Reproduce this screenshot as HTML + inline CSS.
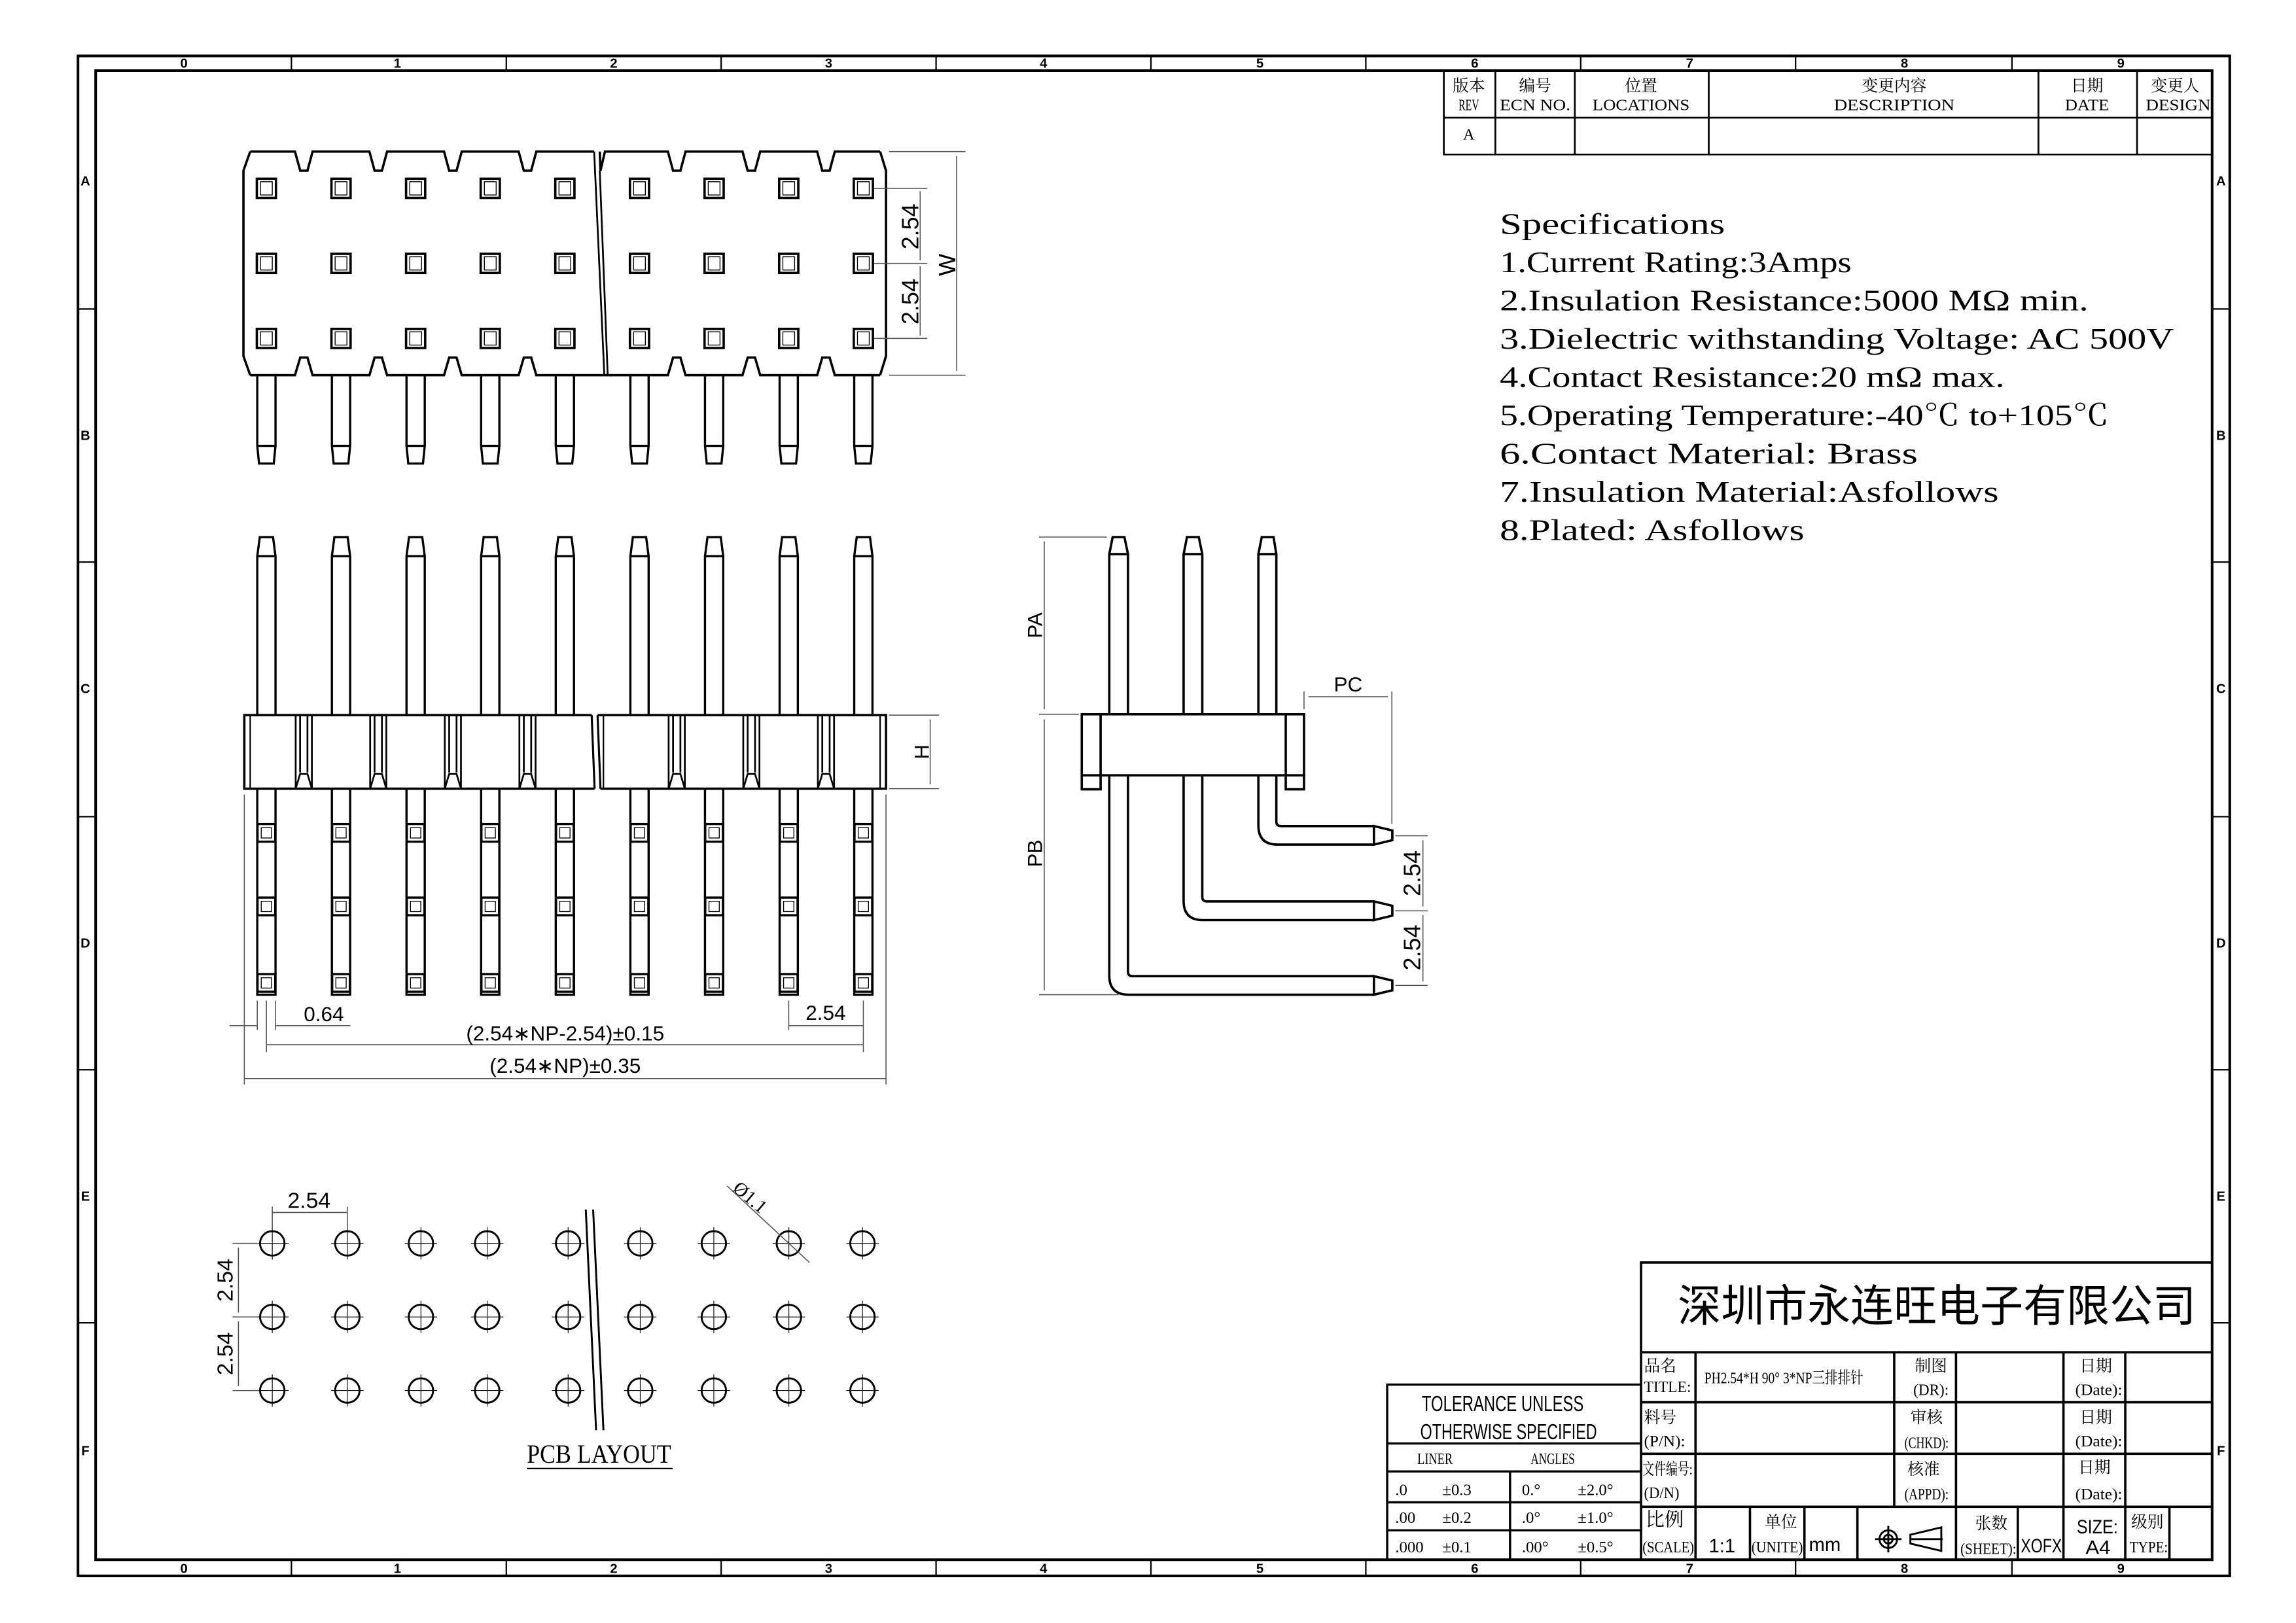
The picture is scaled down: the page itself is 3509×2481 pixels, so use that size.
<!DOCTYPE html>
<html><head><meta charset="utf-8"><style>
html,body{margin:0;padding:0;background:#fff;}
svg{display:block}
text{font-family:"Liberation Sans","Noto Sans CJK SC",sans-serif;fill:#000}
text.s,.s text{font-family:"Liberation Serif","Noto Serif CJK SC","Noto Sans CJK SC",serif}
</style></head><body>
<svg width="3509" height="2481" viewBox="0 0 1560 1103" preserveAspectRatio="none" xmlns="http://www.w3.org/2000/svg">
<defs>
<g id="sq"><rect x="-6.5" y="-6.5" width="13" height="13" fill="#fff" stroke="#000" stroke-width="1.6"/><rect x="-4" y="-4.5" width="8" height="9" fill="none" stroke="#000" stroke-width="0.6"/></g>
<g id="sq2"><rect x="-6" y="-6" width="12" height="12" fill="#fff" stroke="#000" stroke-width="1.5"/><rect x="-3.5" y="-3.5" width="7" height="7" fill="none" stroke="#000" stroke-width="0.6"/></g>
<path id="tp" d="M-6.2,255V303L-5,315H5L6.2,303V255M-6.2,303H6.2" fill="none" stroke="#000" stroke-width="1.5"/>
<g id="fp" fill="none" stroke="#000" stroke-width="1.5"><path d="M-6.2,486V378L-4.5,365H4.5L6.2,378V486M-6.2,378H6.2"/><path d="M-6.2,536V676H6.2V536"/></g>
<g id="hole" fill="none" stroke="#000"><circle r="8.3" stroke-width="1.3"/><path d="M-11,0H11M0,-11V11" stroke-width="0.5"/></g>
<g id="mid" fill="none" stroke="#000" stroke-width="1.2"><path d="M-5.5,486V536M5.5,486V536M-2.5,486V525M2.5,486V525M-5.5,536L-2.5,526H2.5L5.5,536"/></g>
</defs>
<rect width="1560" height="1103" fill="#fff"/>
<!-- frame -->
<g fill="none" stroke="#000">
<rect x="53" y="38" width="1462" height="1033" stroke-width="1.8"/>
<rect x="65" y="48" width="1438" height="1012" stroke-width="1.8"/>
<path stroke-width="1" d="M198,38V48M344,38V48M490,38V48M636,38V48M782,38V48M928,38V48M1074,38V48M1220,38V48M1367,38V48M198,1060V1071M344,1060V1071M490,1060V1071M636,1060V1071M782,1060V1071M928,1060V1071M1074,1060V1071M1220,1060V1071M1367,1060V1071M53,210H65M53,382H65M53,555H65M53,727H65M53,899H65M1503,210H1515M1503,382H1515M1503,555H1515M1503,727H1515M1503,899H1515"/>
</g>
<g font-size="9" font-weight="bold" text-anchor="middle">
<text x="125" y="46">0</text><text x="270" y="46">1</text><text x="417" y="46">2</text><text x="563" y="46">3</text><text x="709" y="46">4</text><text x="856" y="46">5</text><text x="1002" y="46">6</text><text x="1148" y="46">7</text><text x="1294" y="46">8</text><text x="1441" y="46">9</text>
<text x="125" y="1069">0</text><text x="270" y="1069">1</text><text x="417" y="1069">2</text><text x="563" y="1069">3</text><text x="709" y="1069">4</text><text x="856" y="1069">5</text><text x="1002" y="1069">6</text><text x="1148" y="1069">7</text><text x="1294" y="1069">8</text><text x="1441" y="1069">9</text>
<text x="58" y="126">A</text><text x="58" y="299">B</text><text x="58" y="471">C</text><text x="58" y="644">D</text><text x="58" y="816">E</text><text x="58" y="989">F</text>
<text x="1509" y="126">A</text><text x="1509" y="299">B</text><text x="1509" y="471">C</text><text x="1509" y="644">D</text><text x="1509" y="816">E</text><text x="1509" y="989">F</text>
</g>
<!-- revision table -->
<g fill="none" stroke="#000" stroke-width="1.2">
<path d="M981,48V105H1503M981,80H1503M1016,48V105M1070,48V105M1161,48V105M1385,48V105M1452,48V105"/>
</g>
<g class="s" font-size="11" text-anchor="middle">
<text x="998" y="62">版本</text><text x="998" y="75" textLength="14" lengthAdjust="spacingAndGlyphs">REV</text>
<text x="1043" y="62">编号</text><text x="1043" y="75" textLength="48" lengthAdjust="spacingAndGlyphs">ECN NO.</text>
<text x="1115" y="62">位置</text><text x="1115" y="75" textLength="66" lengthAdjust="spacingAndGlyphs">LOCATIONS</text>
<text x="1287" y="62">变更内容</text><text x="1287" y="75" textLength="82" lengthAdjust="spacingAndGlyphs">DESCRIPTION</text>
<text x="1418" y="62">日期</text><text x="1418" y="75" textLength="30" lengthAdjust="spacingAndGlyphs">DATE</text>
<text x="1478" y="62">变更人</text><text x="1480" y="75" textLength="44" lengthAdjust="spacingAndGlyphs">DESIGN</text>
<text x="998" y="95">A</text>
</g>
<!-- specs -->
<g class="s" font-size="20">
<text x="1019" y="159" textLength="153" lengthAdjust="spacingAndGlyphs">Specifications</text>
<text x="1019" y="185" textLength="239" lengthAdjust="spacingAndGlyphs">1.Current Rating:3Amps</text>
<text x="1019" y="211" textLength="400" lengthAdjust="spacingAndGlyphs">2.Insulation Resistance:5000 MΩ min.</text>
<text x="1019" y="237" textLength="458" lengthAdjust="spacingAndGlyphs">3.Dielectric withstanding Voltage: AC 500V</text>
<text x="1019" y="263" textLength="343" lengthAdjust="spacingAndGlyphs">4.Contact Resistance:20 mΩ max.</text>
<text x="1019" y="289" textLength="414" lengthAdjust="spacingAndGlyphs">5.Operating Temperature:-40℃ to+105℃</text>
<text x="1019" y="315" textLength="284" lengthAdjust="spacingAndGlyphs">6.Contact Material:  Brass</text>
<text x="1019" y="341" textLength="339" lengthAdjust="spacingAndGlyphs">7.Insulation Material:Asfollows</text>
<text x="1019" y="367" textLength="207" lengthAdjust="spacingAndGlyphs">8.Plated: Asfollows</text>
</g>
<!-- TOP VIEW -->
<g fill="none" stroke="#000" stroke-width="1.6">
<path d="M170,103H200.4L204,116H208.9L212.4,103H251L254.5,116H259.5L263,103H301.7L305.2,116H310.2L313.7,103H352.4L355.9,116H360.9L364.4,103H403.7"/>
<path d="M407.5,103L408,116L411,103H453.8L457.3,116H462.3L465.8,103H504.5L508,116H513L516.5,103H555.2L558.7,116H563.7L567.2,103H598"/>
<path d="M170,255H200.4L204,243H208.9L212.4,255H251L254.5,243H259.5L263,255H301.7L305.2,243H310.2L313.7,255H352.4L355.9,243H360.9L364.4,255H453.8L457.3,243H462.3L465.8,255H504.5L508,243H513L516.5,255H555.2L558.7,243H563.7L567.2,255H598"/>
<path d="M170,103L165.4,116V242L170,255M598,103L602,116V242L598,255"/>
<path d="M403.7,103L410.6,255M407.5,116L412.9,255" stroke-width="1.2"/>
</g>
<g>
<use href="#sq" x="181" y="128"/><use href="#sq" x="231.7" y="128"/><use href="#sq" x="282.4" y="128"/><use href="#sq" x="333.1" y="128"/><use href="#sq" x="383.8" y="128"/><use href="#sq" x="434.5" y="128"/><use href="#sq" x="485.2" y="128"/><use href="#sq" x="535.9" y="128"/><use href="#sq" x="586.6" y="128"/>
<use href="#sq" x="181" y="179"/><use href="#sq" x="231.7" y="179"/><use href="#sq" x="282.4" y="179"/><use href="#sq" x="333.1" y="179"/><use href="#sq" x="383.8" y="179"/><use href="#sq" x="434.5" y="179"/><use href="#sq" x="485.2" y="179"/><use href="#sq" x="535.9" y="179"/><use href="#sq" x="586.6" y="179"/>
<use href="#sq" x="181" y="230"/><use href="#sq" x="231.7" y="230"/><use href="#sq" x="282.4" y="230"/><use href="#sq" x="333.1" y="230"/><use href="#sq" x="383.8" y="230"/><use href="#sq" x="434.5" y="230"/><use href="#sq" x="485.2" y="230"/><use href="#sq" x="535.9" y="230"/><use href="#sq" x="586.6" y="230"/>
<use href="#tp" x="181"/><use href="#tp" x="231.7"/><use href="#tp" x="282.4"/><use href="#tp" x="333.1"/><use href="#tp" x="383.8"/><use href="#tp" x="434.5"/><use href="#tp" x="485.2"/><use href="#tp" x="535.9"/><use href="#tp" x="586.6"/>
</g>
<g fill="none" stroke="#555" stroke-width="0.7">
<path d="M604,103H656M604,255H656M650,106V252M594,128H630M594,179H630M594,230H630M625.2,130V177M625.2,181V228"/>
</g>
<g font-size="16" text-anchor="middle">
<text transform="translate(624,154) rotate(-90)">2.54</text>
<text transform="translate(624,205) rotate(-90)">2.54</text>
<text transform="translate(649,180) rotate(-90)">W</text>
</g>
<!-- FRONT VIEW -->
<g>
<use href="#fp" x="181"/><use href="#fp" x="231.7"/><use href="#fp" x="282.4"/><use href="#fp" x="333.1"/><use href="#fp" x="383.8"/><use href="#fp" x="434.5"/><use href="#fp" x="485.2"/><use href="#fp" x="535.9"/><use href="#fp" x="586.6"/>
</g>
<g fill="none" stroke="#000" stroke-width="1.6">
<rect x="166" y="486" width="436" height="50"/>
</g>
<g fill="#fff"><path d="M402,484L406,484L408,538L404,538Z"/></g>
<g fill="none" stroke="#000" stroke-width="1.4"><path d="M402,486L404,536M406,486L408,536"/></g>
<g>
<use href="#mid" x="206.4"/><use href="#mid" x="257"/><use href="#mid" x="307.7"/><use href="#mid" x="358.4"/><use href="#mid" x="459.8"/><use href="#mid" x="510.5"/><use href="#mid" x="561.2"/>
</g>
<g fill="none" stroke="#000" stroke-width="1"><path d="M170,486V536M598,486V536M410,486V536"/></g>
<g>
<use href="#sq2" x="181" y="566"/><use href="#sq2" x="231.7" y="566"/><use href="#sq2" x="282.4" y="566"/><use href="#sq2" x="333.1" y="566"/><use href="#sq2" x="383.8" y="566"/><use href="#sq2" x="434.5" y="566"/><use href="#sq2" x="485.2" y="566"/><use href="#sq2" x="535.9" y="566"/><use href="#sq2" x="586.6" y="566"/>
<use href="#sq2" x="181" y="616"/><use href="#sq2" x="231.7" y="616"/><use href="#sq2" x="282.4" y="616"/><use href="#sq2" x="333.1" y="616"/><use href="#sq2" x="383.8" y="616"/><use href="#sq2" x="434.5" y="616"/><use href="#sq2" x="485.2" y="616"/><use href="#sq2" x="535.9" y="616"/><use href="#sq2" x="586.6" y="616"/>
<use href="#sq2" x="181" y="668"/><use href="#sq2" x="231.7" y="668"/><use href="#sq2" x="282.4" y="668"/><use href="#sq2" x="333.1" y="668"/><use href="#sq2" x="383.8" y="668"/><use href="#sq2" x="434.5" y="668"/><use href="#sq2" x="485.2" y="668"/><use href="#sq2" x="535.9" y="668"/><use href="#sq2" x="586.6" y="668"/>
</g>
<g fill="none" stroke="#555" stroke-width="0.7">
<path d="M604,486H638M604,536H638M632,489V533"/>
<path d="M174.8,680V700M187.2,680V700M156,697H174.8M187.2,697H238"/>
<path d="M535.9,680V700M586.6,680V715M535.9,697H586.6"/>
<path d="M181,680V715M181,710H586.6"/>
<path d="M166,540V737M602,540V737M166,733H602"/>
</g>
<g font-size="14" text-anchor="middle">
<text transform="translate(631,511) rotate(-90)">H</text>
<text x="220" y="694">0.64</text>
<text x="561" y="693">2.54</text>
<text x="384" y="707">(2.54∗NP-2.54)±0.15</text>
<text x="384" y="729">(2.54∗NP)±0.35</text>
</g>
<!-- SIDE VIEW -->
<g fill="none" stroke="#000" stroke-width="1.6">
<path d="M753.7,485V376.6L756,365H764L766.4,376.6V485M753.7,376.6H766.4"/>
<path d="M804.2,485V376.6L806.5,365H814.5L816.9,376.6V485M804.2,376.6H816.9"/>
<path d="M855,485V376.6L857.3,365H865.3L867.2,376.6V485M855,376.6H867.2"/>
<rect x="735" y="485.4" width="151" height="41.5"/>
<path d="M735,526.9V536.4H747.8V485.4M886,526.9V536.4H873.6V485.4"/>
<path d="M867.2,527V558.4Q867.2,561.4 870.2,561.4H933.5M855,527V561Q855,574 868,574H933.5"/>
<path d="M933.5,561.4L946,564.4V571L933.5,574Z"/>
<path d="M816.9,527V609.6Q816.9,612.6 819.9,612.6H933.5M804.2,527V612.3Q804.2,625.3 817.2,625.3H933.5"/>
<path d="M933.5,612.6L946,615.6V622.3L933.5,625.3Z"/>
<path d="M766.4,527V660.4Q766.4,663.4 769.4,663.4H933.5M753.7,527V663Q753.7,676 766.7,676H933.5"/>
<path d="M933.5,663.4L946,666.4V673L933.5,676Z"/>
</g>
<g fill="none" stroke="#555" stroke-width="0.7">
<path d="M706,365H752M706,485.4H733M706,676H760M709.5,368V482M709.5,489V673"/>
<path d="M886,470V482M945.7,470V560M889,473.5H943"/>
<path d="M948,568H970M948,619H970M948,669.7H970M966.8,571V616M966.8,622V667"/>
</g>
<g font-size="14" text-anchor="middle">
<text transform="translate(708,425) rotate(-90)">PA</text>
<text transform="translate(708,580) rotate(-90)">PB</text>
<text x="916" y="470">PC</text>
</g>
<g font-size="16" text-anchor="middle">
<text transform="translate(965,593.5) rotate(-90)">2.54</text>
<text transform="translate(965,644) rotate(-90)">2.54</text>
</g>
<!-- PCB LAYOUT -->
<g>
<use href="#hole" x="185" y="845"/><use href="#hole" x="236" y="845"/><use href="#hole" x="286" y="845"/><use href="#hole" x="331" y="845"/><use href="#hole" x="386" y="845"/><use href="#hole" x="435" y="845"/><use href="#hole" x="485" y="845"/><use href="#hole" x="536" y="845"/><use href="#hole" x="586" y="845"/>
<use href="#hole" x="185" y="895"/><use href="#hole" x="236" y="895"/><use href="#hole" x="286" y="895"/><use href="#hole" x="331" y="895"/><use href="#hole" x="386" y="895"/><use href="#hole" x="435" y="895"/><use href="#hole" x="485" y="895"/><use href="#hole" x="536" y="895"/><use href="#hole" x="586" y="895"/>
<use href="#hole" x="185" y="945"/><use href="#hole" x="236" y="945"/><use href="#hole" x="286" y="945"/><use href="#hole" x="331" y="945"/><use href="#hole" x="386" y="945"/><use href="#hole" x="435" y="945"/><use href="#hole" x="485" y="945"/><use href="#hole" x="536" y="945"/><use href="#hole" x="586" y="945"/>
</g>
<g fill="none" stroke="#000" stroke-width="1.3"><path d="M398,822L405,972M403,822L410,972"/></g>
<g fill="none" stroke="#555" stroke-width="0.7">
<path d="M185,820V836M236,820V836M185,824H236"/>
<path d="M158,845H176M158,895H176M158,945H176M162,848V892M162,898V942"/>
<path d="M494,806L550,858"/>
</g>
<g font-size="15" text-anchor="middle">
<text x="210" y="821">2.54</text>
<text transform="translate(158,870) rotate(-90)">2.54</text>
<text transform="translate(158,920) rotate(-90)">2.54</text>
<text class="s" font-size="13" transform="translate(507,817) rotate(40)">Ø1.1</text>
</g>
<text class="s" x="407" y="994" font-size="18" text-anchor="middle" textLength="98" lengthAdjust="spacingAndGlyphs">PCB LAYOUT</text>
<path d="M358,998H457" stroke="#000" stroke-width="1"/>
<!-- TOLERANCE BOX -->
<g fill="none" stroke="#000" stroke-width="1.5">
<path d="M942.5,1060V941H1115M942.5,981H1115M942.5,1000H1115M942.5,1021H1115M942.5,1040H1115M1026,1000V1060"/>
</g>
<g font-size="15" text-anchor="middle">
<text x="1021" y="959" textLength="110" lengthAdjust="spacingAndGlyphs">TOLERANCE UNLESS</text>
<text x="1025" y="978" textLength="120" lengthAdjust="spacingAndGlyphs">OTHERWISE SPECIFIED</text>
</g>
<g class="s" font-size="11">
<text x="963" y="995" textLength="24" lengthAdjust="spacingAndGlyphs">LINER</text>
<text x="1040" y="995" textLength="30" lengthAdjust="spacingAndGlyphs">ANGLES</text>
<text x="948" y="1016">.0</text><text x="980" y="1016">±0.3</text><text x="1034" y="1016">0.°</text><text x="1072" y="1016">±2.0°</text>
<text x="948" y="1035">.00</text><text x="980" y="1035">±0.2</text><text x="1034" y="1035">.0°</text><text x="1072" y="1035">±1.0°</text>
<text x="948" y="1055">.000</text><text x="980" y="1055">±0.1</text><text x="1034" y="1055">.00°</text><text x="1072" y="1055">±0.5°</text>
</g>
<!-- TITLE BLOCK -->
<g fill="none" stroke="#000" stroke-width="1.6">
<path d="M1115,1060V858H1503M1115,919H1503M1115,953H1503M1115,988H1503M1115,1024H1503"/>
<path d="M1152,919V1060M1287,919V1024M1329,919V1024M1402,919V1060M1444,919V1060"/>
<path d="M1189,1024V1060M1226,1024V1060M1262,1024V1060M1329,1024V1060M1371,1024V1060M1474,1024V1060"/>
</g>
<text x="1140" y="898" font-size="30" textLength="352" lengthAdjust="spacingAndGlyphs">深圳市永连旺电子有限公司</text>
<g class="s" font-size="11">
<text x="1117" y="932">品名</text><text x="1117" y="946" textLength="32" lengthAdjust="spacingAndGlyphs">TITLE:</text>
<text x="1158" y="940" textLength="108" lengthAdjust="spacingAndGlyphs">PH2.54*H 90° 3*NP三排排针</text>
<text x="1117" y="967">料号</text><text x="1117" y="983" textLength="28" lengthAdjust="spacingAndGlyphs">(P/N):</text>
<text x="1116" y="1002" textLength="34" lengthAdjust="spacingAndGlyphs">文件编号:</text><text x="1117" y="1018" textLength="24" lengthAdjust="spacingAndGlyphs">(D/N)</text>
<text x="1301" y="932">制图</text><text x="1300" y="948" textLength="24" lengthAdjust="spacingAndGlyphs">(DR):</text>
<text x="1298" y="967">审核</text><text x="1294" y="984" textLength="30" lengthAdjust="spacingAndGlyphs">(CHKD):</text>
<text x="1296" y="1002">核准</text><text x="1294" y="1019" textLength="30" lengthAdjust="spacingAndGlyphs">(APPD):</text>
<text x="1413" y="932">日期</text><text x="1410" y="948" textLength="32" lengthAdjust="spacingAndGlyphs">(Date):</text>
<text x="1413" y="967">日期</text><text x="1410" y="983" textLength="32" lengthAdjust="spacingAndGlyphs">(Date):</text>
<text x="1412" y="1001">日期</text><text x="1410" y="1019" textLength="32" lengthAdjust="spacingAndGlyphs">(Date):</text>
<text x="1118" y="1037" font-size="13">比例</text><text x="1116" y="1055" textLength="35" lengthAdjust="spacingAndGlyphs">(SCALE)</text>
<text x="1199" y="1038">单位</text><text x="1190" y="1055" textLength="35" lengthAdjust="spacingAndGlyphs">(UNITE)</text>
<text x="1342" y="1039">张数</text><text x="1332" y="1056" textLength="38" lengthAdjust="spacingAndGlyphs">(SHEET):</text>
<text x="1448" y="1038">级别</text><text x="1447" y="1055" textLength="26" lengthAdjust="spacingAndGlyphs">TYPE:</text>
</g>
<g font-size="13">
<text x="1161" y="1055">1:1</text>
<text x="1229" y="1054">mm</text>
<text x="1373" y="1055" textLength="28" lengthAdjust="spacingAndGlyphs">XOFX</text>
<text x="1411" y="1042" textLength="28" lengthAdjust="spacingAndGlyphs">SIZE:</text>
<text x="1417" y="1056" textLength="17" lengthAdjust="spacingAndGlyphs">A4</text>
</g>
<g fill="none" stroke="#000" stroke-width="1.3">
<circle cx="1283" cy="1046" r="6"/><circle cx="1283" cy="1046" r="3"/><path d="M1274,1046H1292M1283,1037V1055"/>
<path d="M1298,1043L1319,1038V1054L1298,1049ZM1298,1046H1320"/>
</g>
</svg>
</body></html>
